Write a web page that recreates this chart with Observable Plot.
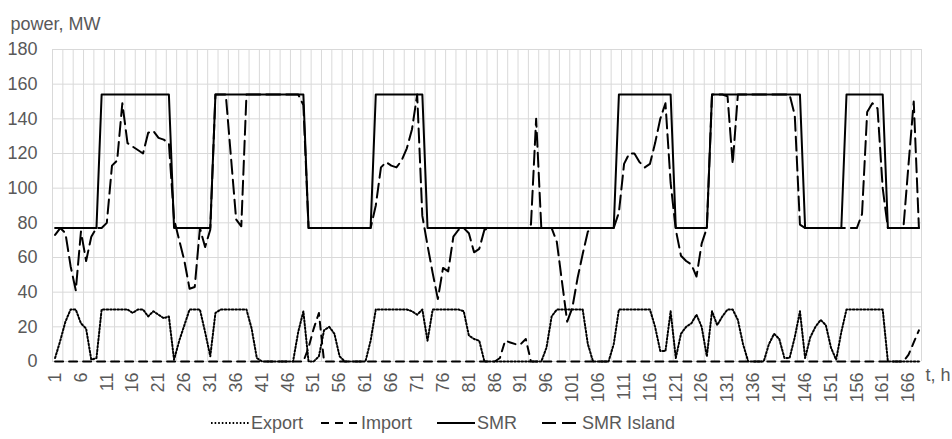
<!DOCTYPE html>
<html>
<head>
<meta charset="utf-8">
<script src="https://cdn.jsdelivr.net/npm/d3@7"></script>
<script src="https://cdn.jsdelivr.net/npm/@observablehq/plot@0.6"></script>
<style>
  html, body { margin: 0; padding: 0; background: #fff; }
  #chart svg { display: block; }
  #legend { position: relative; width: 952px; height: 31px; font: 18px "Liberation Sans", Arial, sans-serif; color: #595959; }
  #legend .item { position: absolute; top: 0; height: 31px; line-height: 31px; white-space: nowrap; display: flex; align-items: flex-start; }
  #legend svg { display: block; }
</style>
</head>
<body>
<div id="chart"></div>
<div id="legend"></div>
<script>
// ---- data (MW per hour, hours 1..168) ----
const hours = d3.range(1, 169);

const smrMW = [
  77,77,77,77,77,77,77,77,77,154,
  154,154,154,154,154,154,154,154,154,154,
  154,154,154,77,77,77,77,77,77,77,
  77,154,154,154,154,154,154,154,154,154,
  154,154,154,154,154,154,154,154,154,77,
  77,77,77,77,77,77,77,77,77,77,
  77,77,154,154,154,154,154,154,154,154,
  154,154,77,77,77,77,77,77,77,77,
  77,77,77,77,77,77,77,77,77,77,
  77,77,77,77,77,77,77,77,77,77,
  77,77,77,77,77,77,77,77,77,154,
  154,154,154,154,154,154,154,154,154,154,
  77,77,77,77,77,77,77,154,154,154,
  154,154,154,154,154,154,154,154,154,154,
  154,154,154,154,154,77,77,77,77,77,
  77,77,77,154,154,154,154,154,154,154,
  154,77,77,77,77,77,77,77
];

const smrIslandMW = [
  73,77,74,55,41,75,58,72,77,77,
  80,113,116,149,126,124,122,120,132,133,
  129,128,126,82,70,58,42,43,77,66,
  76,154,154,154,118,82,78,154,154,154,
  154,154,154,154,154,154,154,154,148,77,
  77,77,77,77,77,77,77,77,77,77,
  77,77,90,112,115,113,112,116,123,134,
  154,84,67,51,36,54,52,72,76,77,
  74,63,65,76,77,77,77,77,77,77,
  77,77,79,140,77,77,77,69,46,23,
  31,48,62,75,77,77,77,77,77,86,
  114,120,120,115,112,114,126,140,149,103,
  76,61,58,56,49,68,77,154,154,154,
  153,114,154,154,154,154,154,154,154,154,
  154,154,154,142,79,77,77,77,77,77,
  77,77,77,77,77,77,85,144,149,146,
  100,77,77,77,77,114,150,77
];

const exportMW = [
  2,12,23,30,30,22,19,1,2,30,
  30,30,30,30,30,28,30,30,26,29,
  27,25,26,1,12,21,30,30,30,17,
  3,28,30,30,30,30,30,30,19,2,
  0,0,0,0,0,0,0,17,29,0,
  0,3,18,20,16,3,0,0,0,0,
  0,12,30,30,30,30,30,30,30,29,
  27,30,12,30,30,30,30,30,30,29,
  15,13,12,0,0,0,0,0,0,0,
  0,0,0,0,0,8,26,30,30,30,
  30,30,30,10,0,0,0,0,10,30,
  30,30,30,30,30,30,20,6,6,29,
  2,16,20,22,27,20,3,29,21,26,
  30,30,24,10,0,0,0,0,10,16,
  13,2,2,14,29,2,14,20,24,21,
  8,1,17,30,30,30,30,30,30,30,
  30,0,0,0,0,0,0,0
];

const importMW = [
  0,0,0,0,0,0,0,0,0,0,
  0,0,0,0,0,0,0,0,0,0,
  0,0,0,0,0,0,0,0,0,0,
  0,0,0,0,0,0,0,0,0,0,
  0,0,0,0,0,0,0,0,0,8,
  19,28,0,0,0,0,0,0,0,0,
  0,0,0,0,0,0,0,0,0,0,
  0,0,0,0,0,0,0,0,0,0,
  0,0,0,0,0,0,2,12,11,10,
  10,13,0,0,0,0,0,0,0,0,
  0,0,0,0,0,0,0,0,0,0,
  0,0,0,0,0,0,0,0,0,0,
  0,0,0,0,0,0,0,0,0,0,
  0,0,0,0,0,0,0,0,0,0,
  0,0,0,0,0,0,0,0,0,0,
  0,0,0,0,0,0,0,0,0,0,
  0,0,0,0,0,4,11,18
];

const seriesNames = ["Export", "Import", "SMR", "SMR Island"];
const yTickValues = [0, 20, 40, 60, 80, 100, 120, 140, 160, 180];
const xTickValues = d3.range(1, 169, 5);   // 1, 6, 11, ... 166
const yLabel = "power, MW";
const xLabel = "t, h";

// ---- styles ----
const seriesStyle = {
  "Export":     { values: exportMW,    dash: "1.6,2", width: 2 },
  "Import":     { values: importMW,    dash: "8,6",   width: 2 },
  "SMR":        { values: smrMW,       dash: null,    width: 2 },
  "SMR Island": { values: smrIslandMW, dash: "14,6",  width: 2 }
};
const gridColor = "#d9d9d9";
const textColor = "#595959";
const font = '"Liberation Sans", Arial, sans-serif';

// category boundaries every two hours (Excel style gridlines)
const gridX = d3.range(0.5, 169, 2);

const lineMarks = seriesNames.map(name => {
  const s = seriesStyle[name];
  return Plot.line(s.values, {
    x: (d, i) => hours[i],
    y: d => d,
    stroke: "#000",
    strokeWidth: s.width,
    strokeDasharray: s.dash,
    strokeLinejoin: "round"
  });
});

const chart = Plot.plot({
  width: 952,
  height: 408,
  marginTop: 49,
  marginBottom: 47,
  marginLeft: 52,
  marginRight: 31,
  x: { domain: [0.5, 168.5], axis: null },
  y: { domain: [0, 180], axis: null },
  style: { fontFamily: font, fontSize: "18px", color: textColor, background: "#fff", overflow: "visible" },
  marks: [
    Plot.ruleY(yTickValues, { stroke: gridColor, strokeWidth: 1 }),
    Plot.ruleX(gridX, { stroke: gridColor, strokeWidth: 1 }),
    Plot.axisY(yTickValues, { tickSize: 0, tickPadding: 15, fontSize: 18, label: null }),
    Plot.axisX(xTickValues, { tickSize: 0, tickPadding: 11, tickRotate: -90, fontSize: 18, label: null }),
    ...lineMarks,
    Plot.text([yLabel], { frameAnchor: "top-left", textAnchor: "start", dx: -42, dy: -32, fontSize: 18, fill: textColor }),
    Plot.text([xLabel], { frameAnchor: "bottom-right", textAnchor: "start", dx: 4, dy: 19, fontSize: 18, fill: textColor })
  ]
});
document.getElementById("chart").appendChild(chart);

// ---- legend (below the SVG) ----
const legendLeft = { "Export": 211, "Import": 321, "SMR": 437, "SMR Island": 542 };
const legend = d3.select("#legend");
seriesNames.forEach(name => {
  const s = seriesStyle[name];
  const item = legend.append("div").attr("class", "item").style("left", legendLeft[name] + "px");
  const svg = item.append("svg").attr("width", 39).attr("height", 31);
  svg.append("line")
    .attr("x1", 0).attr("x2", 38).attr("y1", 15).attr("y2", 15)
    .attr("stroke", "#000").attr("stroke-width", s.width)
    .attr("stroke-dasharray", s.dash);
  item.append("span").style("margin-left", "1px").text(name);
});
</script>
</body>
</html>
